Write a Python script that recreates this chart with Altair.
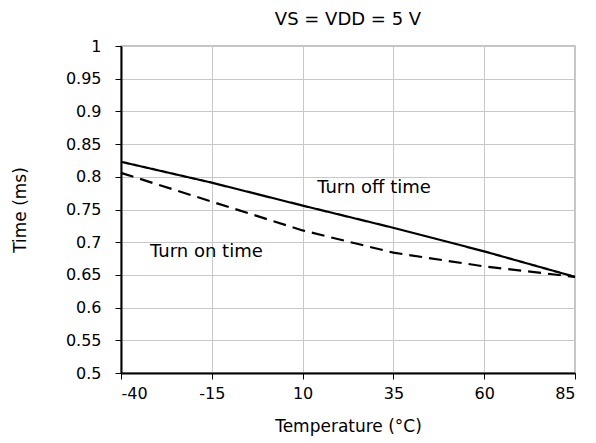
import altair as alt
import pandas as pd

temps = [-40, -15, 10, 35, 60, 85]
turn_off = [0.823, 0.791, 0.756, 0.722, 0.686, 0.647]
turn_on = [0.806, 0.762, 0.718, 0.684, 0.663, 0.647]

label_text = ["Turn off time", "Turn on time"]
label_x = [14, -32]
label_y = [0.783, 0.685]

x_ticks = [-40, -15, 10, 35, 60, 85]
y_ticks = [0.5, 0.55, 0.6, 0.65, 0.7, 0.75, 0.8, 0.85, 0.9, 0.95, 1.0]

FONT = "DejaVu Sans"

df = pd.DataFrame({
    "Temperature": temps * 2,
    "Time": turn_off + turn_on,
    "Series": ["off"] * len(temps) + ["on"] * len(temps),
})
lab = pd.DataFrame({"x": label_x, "y": label_y, "t": label_text})

xs = alt.Scale(domain=[-40, 85], nice=False, zero=False)
ys = alt.Scale(domain=[0.5, 1.0], nice=False, zero=False)

x_axis = alt.Axis(values=x_ticks, title="Temperature (°C)", labelExpr="toString(datum.value)",
                  grid=True, gridColor="#c8c8c8", domainColor="black", domainWidth=2,
                  tickColor="black", tickSize=6, labelFontSize=16, labelPadding=6,
                  labelOverlap=False,
                  titleFontSize=17, titleFontWeight="normal", titlePadding=17,
                  labelFont=FONT, titleFont=FONT, labelColor="black", titleColor="black")
y_axis = alt.Axis(values=y_ticks, title="Time (ms)",
                  labelExpr="toString(datum.value)",
                  grid=True, gridColor="#c8c8c8", domainColor="black", domainWidth=2,
                  tickColor="black", tickSize=6, labelFontSize=16, labelPadding=14,
                  labelOverlap=False,
                  titleFontSize=17, titleFontWeight="normal", titlePadding=36,
                  labelFont=FONT, titleFont=FONT, labelColor="black", titleColor="black")

lines = alt.Chart(df).mark_line(color="black", strokeWidth=2.2).encode(
    x=alt.X("Temperature:Q", scale=xs, axis=x_axis),
    y=alt.Y("Time:Q", scale=ys, axis=y_axis),
    strokeDash=alt.StrokeDash("Series:N", scale=alt.Scale(domain=["off", "on"], range=[[1, 0], [13, 7]]), legend=None),
    detail="Series:N",
)

texts = alt.Chart(lab).mark_text(align="left", baseline="middle", fontSize=18, font=FONT, color="black").encode(
    x=alt.X("x:Q", scale=xs, axis=x_axis), y=alt.Y("y:Q", scale=ys, axis=y_axis), text="t:N"
)

chart = alt.layer(lines, texts).properties(
    width=454, height=327,
    title=alt.TitleParams("VS = VDD = 5 V", fontSize=18, font=FONT, fontWeight="normal", color="black", offset=9),
    autosize=alt.AutoSizeParams(type="none"),
    padding={"left": 113, "top": 38, "right": 13, "bottom": 70},
).configure_view(stroke="#b0b0b0", strokeWidth=1.5)

chart.save("out.html", embed_options={"renderer": "svg", "actions": False})
